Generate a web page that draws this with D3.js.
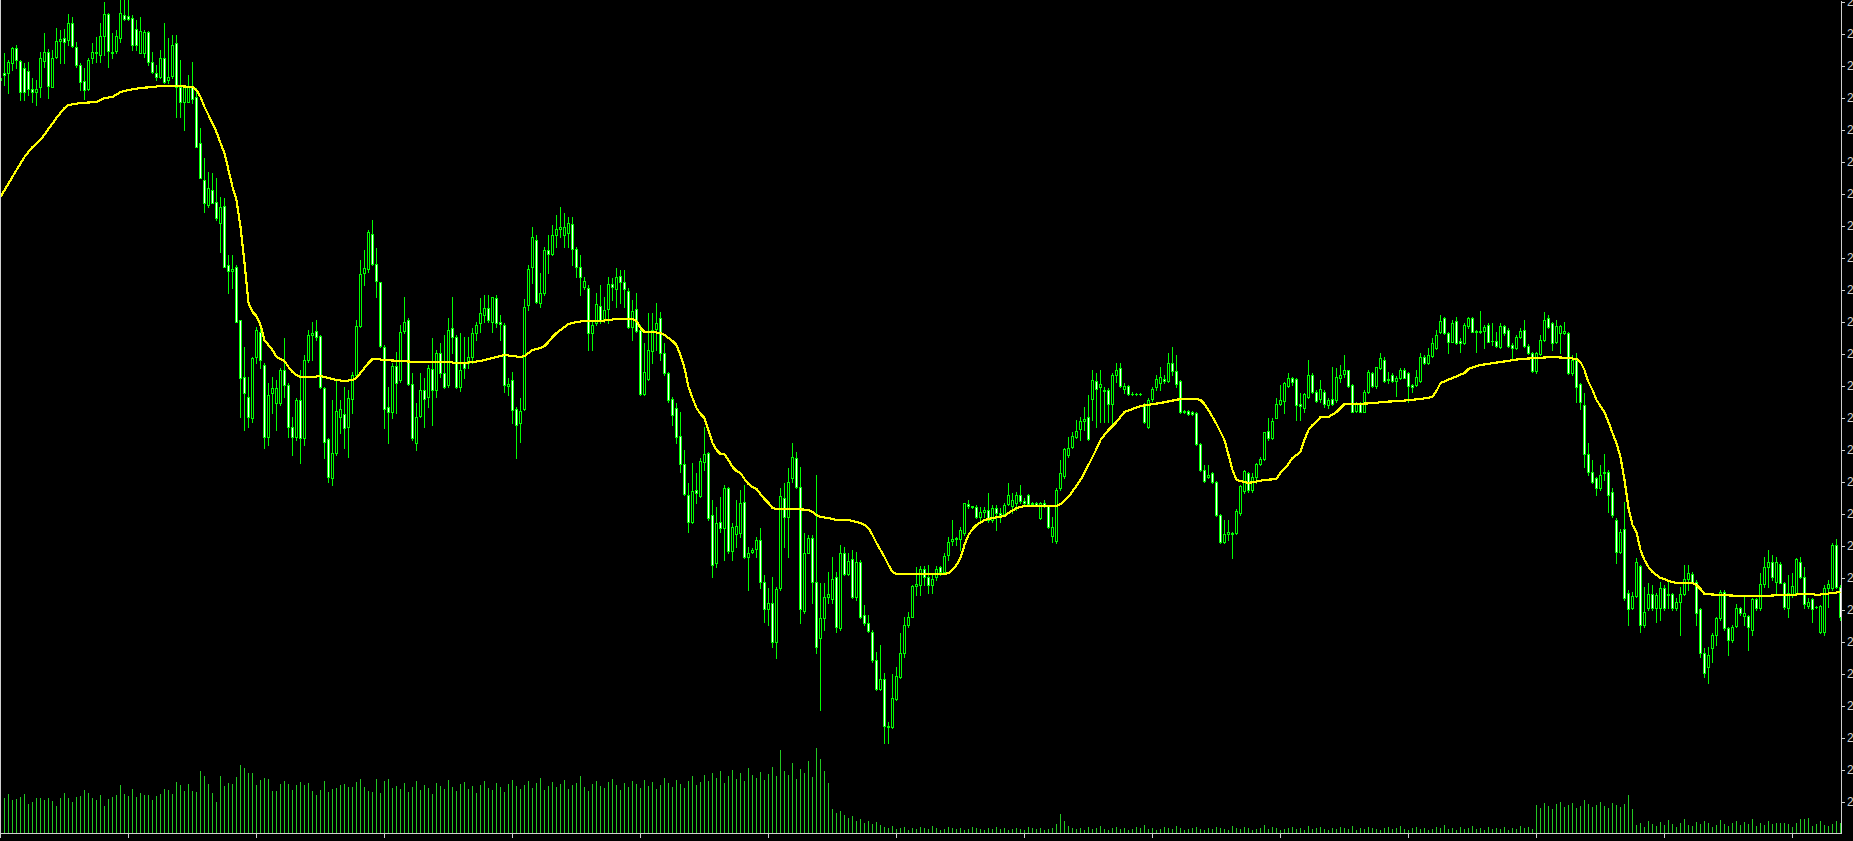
<!DOCTYPE html>
<html>
<head>
<meta charset="utf-8">
<script src="https://cdn.jsdelivr.net/npm/d3@7"></script>
<style>
  html, body { margin: 0; padding: 0; background: #000; overflow: hidden; }
  .axis path, .axis line { stroke: #d0d0d0; }
  .axis text { fill: #d0d0d0; font: 12px 'Liberation Sans', Arial, sans-serif; }
</style>
</head>
<body>
<svg id="chart"></svg>
<script>
// OHLC per bar, price in points
const open = [
  920,927,927,937,952,939,932,929,911,908, 913,939,948,913,943,959,962,960,977,953,
  935,919,911,942,947,945,964,986,948,949, 962,985,984,982,971,947,947,968,938,927,
  923,942,920,924,957,913,898,898,914,903, 857,820,795,810,798,777,794,735,729,733,
  680,623,603,582,643,668,635,563,607,597, 597,630,615,573,563,600,562,640,665,669,
  664,612,561,522,547,583,586,573,601,625, 674,727,731,766,736,718,653,593,588,634,
  620,669,680,616,557,584,610,603,631,610, 647,627,615,672,663,613,637,637,643,667,
  677,685,692,678,702,678,675,614,620,591, 577,591,695,733,760,697,707,750,746,765,
  771,765,767,776,751,733,713,712,667,677, 694,680,691,716,711,724,718,709,673,691,
  670,606,621,649,671,682,647,627,601,592, 564,536,505,478,510,504,538,547,485,437,
  478,472,512,449,466,467,498,443,448,451, 460,418,391,397,358,412,502,483,522,542,
  513,389,447,462,418,362,382,403,401,423, 372,447,426,441,403,438,385,377,368,340,
  311,321,274,273,301,323,347,375,383,414, 415,431,423,415,423,433,428,445,459,461,
  461,467,496,494,493,483,488,490,480,492, 487,486,496,494,497,505,499,505,496,497,
  482,497,494,464,459,512,524,545,553,563, 571,579,583,601,619,613,610,610,596,625,
  632,611,614,606,606,606,596,573,601,613, 617,621,619,637,629,619,588,589,588,587,
  556,530,523,527,518,485,458,466,467,467, 487,509,527,510,523,536,541,569,562,582,
  596,599,614,622,621,596,592,603,625,608, 601,608,595,601,600,622,626,630,615,589,
  596,588,608,627,614,632,640,621,625,619, 622,630,627,615,615,619,643,637,644,652,
  668,682,667,658,679,659,657,674,682,669, 668,669,675,659,659,653,674,670,655,652,
  663,670,654,647,629,646,660,682,677,658, 667,667,667,627,640,616,595,546,528,522,
  512,527,528,508,480,448,471,407,392,404, 434,375,392,406,392,392,412,405,406,392,
  398,406,421,426,418,391,347,333,352,365, 382,408,372,360,374,392,384,384,370,401,
  392,416,433,438,418,436,417,392,406,407, 438,423,394,401,393,368,368,412,412,455,
  413
]
const high = [
  925,947,940,953,955,940,937,938,922,920, 948,967,951,950,972,970,971,986,983,958,
  937,932,942,957,963,977,998,987,967,970, 1004,1004,1004,985,980,983,970,969,948,935,
  950,977,962,965,965,940,915,925,938,912, 872,842,828,827,822,803,802,745,745,735,
  680,653,623,643,673,673,637,617,623,620, 632,662,617,583,602,630,645,670,678,680,
  665,613,562,600,620,600,613,610,628,680, 740,750,770,780,752,718,655,613,637,648,
  675,703,682,627,597,627,622,635,662,650, 657,665,682,703,665,667,663,663,672,678,
  702,705,705,703,705,685,677,622,628,593, 602,701,735,773,765,727,753,765,775,785,
  793,787,783,783,753,745,723,715,680,707, 715,703,723,722,732,730,730,712,700,707,
  675,657,687,687,697,688,657,628,603,597, 588,550,517,537,527,542,573,548,500,493,
  503,515,513,477,500,510,515,453,452,463, 472,425,412,423,413,512,517,532,557,548,
  533,467,465,465,525,417,417,428,443,428, 455,453,447,450,448,440,395,385,370,348,
  355,327,278,326,333,367,383,388,415,433, 434,434,435,427,434,434,447,463,480,463,
  473,497,500,494,495,493,493,507,495,495, 492,497,517,507,508,515,502,506,498,498,
  498,500,495,483,512,540,552,563,568,580, 583,593,605,630,627,630,613,612,627,637,
  637,617,615,608,607,607,597,602,613,625, 633,625,647,653,645,620,590,590,589,588,
  557,535,535,528,519,486,480,480,468,491, 515,530,528,527,537,543,568,582,582,602,
  615,618,627,623,622,607,607,640,627,610, 620,610,602,633,632,635,645,630,616,598,
  598,610,630,628,633,647,643,628,627,624, 632,632,628,616,630,647,645,652,662,670,
  685,683,668,680,683,662,677,683,683,670, 689,675,677,677,668,677,675,672,657,665,
  672,680,656,648,648,665,688,685,678,680, 675,678,668,645,647,617,607,557,540,523,
  535,546,530,512,482,471,498,410,408,442, 435,413,417,415,407,418,415,420,407,402,
  413,435,435,428,420,392,352,353,367,383, 410,410,373,375,396,393,403,385,402,402,
  427,443,450,445,443,438,418,425,427,442, 443,433,402,402,394,395,415,420,457,461,
  415
]
const low = [
  915,915,907,930,932,900,900,905,898,895, 903,933,902,913,942,937,937,955,953,933,
  910,901,910,937,938,938,945,933,942,947, 958,980,980,950,950,947,943,935,927,920,
  922,917,917,922,883,883,870,898,897,853, 822,788,793,797,780,748,733,707,712,678,
  583,570,573,578,637,632,552,555,587,570, 595,603,563,545,560,537,555,638,640,660,
  612,542,518,515,545,567,552,543,587,623, 673,715,728,735,703,653,572,557,582,587,
  618,667,615,560,550,583,573,593,575,603, 623,612,613,647,612,609,622,632,637,660,
  668,678,678,668,673,660,608,605,577,542, 558,590,690,717,697,693,705,727,745,753,
  763,753,753,735,723,705,711,650,650,675, 677,678,677,700,693,697,693,672,660,668,
  605,605,620,637,650,640,625,598,575,557, 528,505,468,477,497,503,530,480,423,433,
  468,440,447,440,453,463,442,410,447,443, 412,378,375,353,342,410,453,443,518,512,
  377,387,447,397,347,290,370,397,397,368, 370,425,425,402,400,382,375,368,338,310,
  310,257,257,272,300,322,343,373,383,405, 405,415,407,407,420,425,427,440,455,455,
  450,465,492,492,482,478,483,478,478,470, 478,485,495,487,490,497,495,495,495,494,
  481,493,472,458,457,510,522,543,552,562, 560,570,560,580,573,578,578,578,573,618,
  613,607,605,605,605,605,577,572,599,610, 610,617,618,625,613,587,587,585,585,555,
  529,518,522,517,484,457,457,460,442,466, 485,507,508,508,517,535,540,560,561,582,
  595,587,613,615,580,580,588,602,607,598, 598,593,592,595,598,618,623,613,588,588,
  588,588,607,613,612,631,618,617,618,604, 621,622,598,608,614,618,636,636,643,651,
  667,666,647,658,656,648,656,672,668,648, 667,652,658,655,653,652,665,653,642,651,
  662,653,646,628,627,645,659,672,650,657, 647,666,626,625,598,591,533,525,517,505,
  510,520,488,483,437,447,400,375,391,403, 368,373,390,390,378,380,390,392,390,390,
  365,405,410,417,375,343,323,317,338,355, 380,370,345,358,373,385,375,350,365,390,
  390,413,413,420,405,417,391,383,403,405, 422,392,392,378,392,367,365,393,410,412,
  380
]
const close = [
  922,925,938,952,940,908,908,911,908,911, 942,948,914,942,959,961,958,977,954,935,
  918,910,940,948,948,964,986,949,947,964, 987,981,981,955,955,969,968,938,928,923,
  942,918,923,955,913,898,913,914,901,853, 822,797,812,797,782,793,733,729,731,678,
  622,607,583,642,670,640,563,605,612,612, 630,615,573,563,600,562,640,665,667,663,
  613,558,523,547,589,591,572,602,625,674, 726,732,768,736,719,654,591,588,634,617,
  668,678,616,562,583,610,601,632,610,647, 627,613,670,663,613,630,632,643,667,675,
  687,692,680,703,677,676,615,616,590,575, 589,693,731,763,698,707,750,746,765,771,
  773,773,777,751,733,723,719,667,675,696, 679,690,716,713,723,718,711,673,689,669,
  606,628,650,670,677,647,627,600,585,563, 536,506,478,509,507,539,546,482,435,477,
  472,512,449,473,474,497,443,447,450,460, 418,391,397,358,411,504,483,518,543,513,
  391,447,462,418,353,382,403,406,421,373, 447,426,439,403,438,383,377,369,340,311,
  321,274,273,302,324,347,375,383,414,416, 431,423,415,421,431,428,444,458,461,462,
  470,497,494,493,483,488,490,480,492,487, 485,495,505,500,505,499,497,496,497,495,
  497,495,473,473,510,527,551,552,564,569, 579,581,561,620,611,616,609,596,625,630,
  614,614,606,606,606,606,578,600,611,621, 623,619,637,629,616,588,589,586,586,556,
  530,519,525,518,485,458,466,468,466,489, 514,529,510,523,536,541,568,562,579,596,
  600,617,622,618,595,594,606,625,608,599, 611,596,600,596,623,625,630,614,588,596,
  588,608,628,614,633,642,619,620,619,622, 630,622,614,613,623,643,637,645,657,665,
  679,667,658,677,657,657,675,682,668,668, 669,673,658,659,654,674,667,654,652,663,
  669,654,647,629,647,660,680,673,657,674, 674,669,627,640,613,598,546,528,518,512,
  525,528,505,485,448,468,402,391,404,438, 375,388,406,392,405,412,392,406,392,398,
  406,421,427,418,387,347,327,345,365,382, 408,372,360,373,392,387,387,373,401,392,
  416,433,438,423,438,417,393,407,414,441, 423,396,398,391,393,394,412,416,455,413,
  383
]
// tick volume per bar
const volume = [
  35,35,39,33,34,36,39,29,31,35, 35,33,35,32,27,35,40,35,31,36, 37,43,40,35,33,38,27,34,36,38,
  48,39,37,44,36,40,38,38,33,37, 39,44,43,39,51,48,42,49,42,41, 62,57,49,40,31,57,47,50,49,56,
  68,65,60,60,48,53,55,54,42,42, 49,52,49,43,48,51,48,50,42,38, 43,52,41,44,45,48,49,46,46,51,
  54,46,42,41,54,40,52,54,45,
  47,44,50,41,46,52,43,48,45,39, 50,47,44,53,46,42,49,51,44,47, 40,48,52,45,43,50,46,41,49,53, 47,44,
  48,52,45,50,55,43,47,51,46,49, 53,44,48,50,57,46,42,49,52,47, 45,51,54,48,43,50,46,52,49,45,
  53,47,51,44,48,55,50,46,53,49, 45,52,57,48,51,
  58,52,60,55,62,50,57,63,54,60, 52,65,58,55,61,53,59,66,57,83, 62,58,70,54,64,60,72,56,85,74, 62,50,
  24,20,22,18,15,17,12,14,10,12,9,11,8,
  6,5,7,4,5,6,3,5,4,6, 5,4,7,5,3,4,6,5,4,5, 3,4,6,5,4,3,5,4,6,4, 5,3,4,5,4,3,6,5,4,5, 3,4,5,
  9,19,12,7,5,
  4,5,3,6,4,5,7,4,3,5, 6,4,5,3,4,6,5,8,4,5, 3,4,6,5,4,7,5,3,4,5, 6,4,3,5,4,6,5,4,3,7,
  5,4,6,5,3,4,5,8,4,6, 5,3,4,5,6,4,5,3,7,4, 5,6,4,3,5,4,6,5,4,7, 3,5,4,6,5,4,3,5,6,4,
  5,7,4,3,5,6,4,5,3,4, 6,5,8,4,5,3,6,4,5,7, 4,5,3,6,4,5,4,6,3,5, 4,7,5,6,4,
  28,25,30,27,24,29,31,26,28,30, 25,27,33,29,26,28,31,27,25,30, 28,26,29,38,24,
  8,10,6,12,9,7,11,8,13,9, 6,10,14,8,7,11,9,12,10,6, 8,13,9,7,10,12,8,11,9,14, 7,10,8,12,9,10,
  10,10,9,6,10,14,14,15,7,9,12,8,7,9,12,10
]
// moving average, read at these bars
const maBars = [
  0,4,6,8,10,12,14,16,17,20,24,25,26,28,30,32,35,38,40,44,48,49,50,51,52,54,55,56,57,58,59,
  60,61,62,63,64,65,66,67,68,69,70,71,72,73,74,75,78,80,82,84,86,88,89,90,91,92,93,94,96,
  100,104,108,112,114,116,118,120,122,124,126,128,130,131,132,133,134,135,136,137,138,139,
  140,141,142,143,144,146,150,152,154,158,159,160,161,163,165,166,167,168,169,170,171,172,
  173,174,175,176,177,178,179,180,181,182,183,184,185,186,187,188,189,190,191,192,193,194,
  199,202,203,204,205,207,208,209,212,213,214,215,216,217,218,219,220,221,222,223,224,236,
  237,238,239,240,241,242,243,244,246,248,251,252,254,256,264,265,267,270,272,274,275,277,
  279,281,285,290,295,299,300,301,302,303,304,305,306,307,308,309,312,316,319,320,322,323,
  325,326,327,328,329,330,332,334,336,339,344,345,350,355,358,359,360,363,366,367,370,375,
  380,384,388,392,394,395,396,397,398,399,400,401,402,403,404,405,406,407,408,409,410,411,
  412,413,414,415,416,417,418,419,423,424,425,426,430,435,441,445,448,450,453,454,456,458,460
]
const maValues = [
  803,830,843,853,860,871,882,892,895,897,898,900,902,903,908,910,912,913,914,914,913,910,903,893,885,868,857,847,830,813,800,
  773,737,697,688,684,675,660,655,650,643,641,639,633,628,625,623,623,624,622,620,619,620,622,627,632,637,641,641,640,
  639,638,638,638,637,637,638,639,641,643,645,644,643,644,647,650,651,652,654,658,663,667,
  670,673,676,677,678,679,679,680,681,681,679,672,668,668,667,665,662,659,655,645,632,613,
  602,592,586,582,570,557,550,546,546,540,533,529,527,521,516,513,511,506,501,497,492,491,
  491,490,488,485,483,482,481,480,480,479,478,477,475,472,465,457,450,443,435,428,426,426,
  427,430,435,442,455,465,471,475,480,482,484,487,492,494,494,496,503,520,535,551,560,570,
  578,588,594,597,601,601,600,596,590,583,576,568,560,545,530,520,517,520,521,527,536,542,
  548,560,570,575,578,583,583,588,596,596,597,598,599,601,603,609,617,622,627,631,635,638,
  641,642,643,642,641,638,630,618,610,600,594,588,578,567,557,543,520,492,475,468,450,440,
  433,428,425,422,421,419,418,417,417,415,411,406,405,404,404,405,405,406,406,405,406,407,408
]
const priceTicks = [998,966,934,902,870,838,806,774,742,710,678,646,614,582,550,518,486,454,422,390,358,326,294,262,230,198]
const priceLabels = ['2.0998','2.0966','2.0934','2.0902','2.0870','2.0838','2.0806','2.0774','2.0742','2.0710','2.0678','2.0646','2.0614',
  '2.0582','2.0550','2.0518','2.0486','2.0454','2.0422','2.0390','2.0358','2.0326','2.0294','2.0262','2.0230','2.0198']
const timeTicks = [0,32,64,96,128,160,192,224,256,288,320,352,384,416,448]

const W = 1853, H = 841
const plotW = 1841, plotH = 833
const n = close.length

const svg = d3.select('#chart').attr('width', W).attr('height', H)
svg.append('rect').attr('width', W).attr('height', H).attr('fill', '#000')
svg.append('clipPath').attr('id', 'plot')
    .append('rect').attr('width', plotW).attr('height', plotH)

// 4px per bar, 1 point per px
const x = d3.scaleLinear().domain([0, 460.25]).range([0, plotW])
const y = d3.scaleLinear().domain([167, 1000]).range([plotH, 0])
const yVol = d3.scaleLinear().domain([0, 100]).range([plotH, plotH - 100])

const bars = d3.range(n)
const cx = i => Math.round(x(i))

const plot = svg.append('g')
    .attr('clip-path', 'url(#plot)')
    .attr('shape-rendering', 'crispEdges')

// volumes
plot.append('g').selectAll('line').data(bars).join('line')
    .attr('x1', i => cx(i) + 0.5).attr('x2', i => cx(i) + 0.5)
    .attr('y1', plotH).attr('y2', i => Math.round(yVol(volume[i] || 0)))
    .attr('stroke', '#22c822')

// wicks
plot.append('g').selectAll('line').data(bars).join('line')
    .attr('x1', i => cx(i) + 0.5).attr('x2', i => cx(i) + 0.5)
    .attr('y1', i => Math.round(y(high[i])))
    .attr('y2', i => Math.round(y(low[i])) + 1)
    .attr('stroke', '#00ff00')

// bodies
const bodyTop = i => Math.round(y(Math.max(open[i], close[i])))
const bodyBot = i => Math.round(y(Math.min(open[i], close[i])))
const solid = bars.filter(i => bodyBot(i) > bodyTop(i))
const doji = bars.filter(i => bodyBot(i) <= bodyTop(i))

plot.append('g').selectAll('rect').data(solid).join('rect')
    .attr('x', i => cx(i) - 0.5)
    .attr('y', i => bodyTop(i) + 0.5)
    .attr('width', 2)
    .attr('height', i => bodyBot(i) - bodyTop(i))
    .attr('fill', i => close[i] < open[i] ? '#ffffff' : '#000000')
    .attr('stroke', '#00ff00')

plot.append('g').selectAll('line').data(doji).join('line')
    .attr('x1', i => cx(i) - 1).attr('x2', i => cx(i) + 2)
    .attr('y1', i => bodyTop(i) + 0.5).attr('y2', i => bodyTop(i) + 0.5)
    .attr('stroke', '#00ff00')

// moving average
const maLine = d3.line()
    .x((d, i) => x(d) + 0.5)
    .y((d, i) => y(maValues[i]))
plot.append('path')
    .attr('d', maLine(maBars))
    .attr('fill', 'none')
    .attr('stroke', '#ffff00')
    .attr('stroke-width', 2.2)

// axes
svg.append('g').attr('class', 'axis')
    .attr('transform', `translate(${plotW},0)`)
    .call(d3.axisRight(y).tickValues(priceTicks)
        .tickFormat((d, i) => priceLabels[i])
        .tickSize(4).tickSizeOuter(0).tickPadding(2))
    .attr('shape-rendering', 'crispEdges')

svg.append('g').attr('class', 'axis')
    .attr('transform', `translate(0,${plotH})`)
    .call(d3.axisBottom(x).tickValues(timeTicks)
        .tickFormat('').tickSize(5).tickSizeOuter(0))
    .attr('shape-rendering', 'crispEdges')

// left frame edge
svg.append('line')
    .attr('x1', 0.5).attr('x2', 0.5).attr('y1', 0).attr('y2', plotH)
    .attr('stroke', '#d0d0d0')
</script>
</body>
</html>
